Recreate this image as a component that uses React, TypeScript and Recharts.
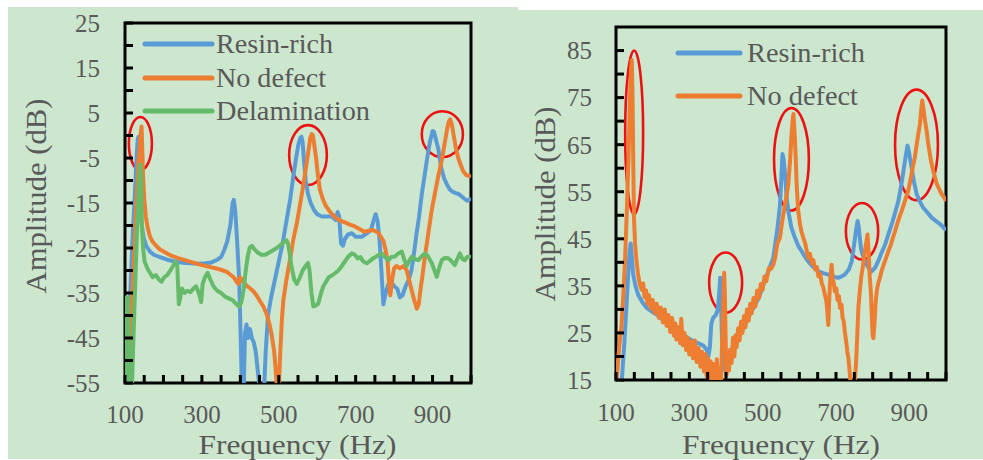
import React from 'react';
import { LineChart, Line, XAxis, YAxis, ReferenceArea, Legend } from 'recharts';

// ---------------- DATA ----------------
// Left panel: frequency (Hz) vs amplitude (dB)
const leftResinRich: [number, number][] = [
  [100, -44], [103, -50], [106, -56], [110, -45], [115, -32], [120, -22], [125, -14], [130, -5], [133, -1],
  [135, -0.3], [137, -6], [139, -15], [142, -19], [148, -22.5], [155, -24.5], [165, -25.8], [175, -26.5],
  [190, -27], [210, -27.6], [230, -28], [250, -28.3], [270, -28.4], [290, -28.5], [310, -28.4], [325, -28.2],
  [340, -27.6], [350, -27], [358, -25.5], [366, -23.5], [374, -20], [380, -15], [383, -14.3], [387, -17],
  [392, -24], [397, -32], [401, -45], [404, -56], [409, -56], [412, -44], [416, -42], [420, -45], [425, -43],
  [430, -45], [435, -46], [440, -48], [445, -52], [450, -56], [462, -56], [466, -48], [472, -40], [480, -36],
  [490, -32], [500, -28], [510, -24], [520, -19], [530, -14], [538, -9], [545, -5], [551, -2], [556, -0.5],
  [559, -0.3], [562, -1.5], [566, -6], [570, -10], [576, -13], [583, -15], [592, -16.6], [600, -17.5],
  [612, -18], [625, -18], [638, -18], [648, -18.8], [653, -17], [657, -18], [662, -24], [667, -24.5],
  [672, -23], [680, -22], [690, -21.7], [700, -22.5], [716, -22.5], [728, -21.8], [740, -21], [748, -18.5],
  [752, -17.5], [757, -19], [762, -23], [767, -30], [772, -37.5], [778, -35], [785, -33], [792, -32.5],
  [800, -33.5], [808, -34], [815, -36], [822, -35.5], [830, -33.5], [838, -32], [845, -30], [852, -26],
  [858, -22], [865, -18], [872, -13], [880, -8.5], [887, -4.5], [893, -1.5], [900, 1], [904, 0.8],
  [909, -1], [915, -3], [922, -7], [930, -9.5], [938, -11], [945, -12], [952, -12.5], [960, -12.8],
  [968, -13], [975, -13.5], [982, -14], [990, -14.5], [1000, -14],
];

const leftNoDefect: [number, number][] = [
  [100, -47], [104, -50], [108, -56], [112, -56], [116, -44], [120, -34], [124, -26], [128, -18], [132, -11],
  [136, -5], [140, -0.5], [143, 2], [145, -3], [147, -9], [150, -14], [154, -18], [159, -20.5], [165, -22.5],
  [172, -23.6], [182, -24.6], [192, -25.4], [205, -26], [220, -26.7], [240, -27.3], [260, -27.8],
  [280, -28.3], [300, -28.8], [320, -29.2], [340, -29.6], [355, -30], [365, -30.3], [375, -31], [383, -31.5],
  [390, -32.5], [395, -33], [399, -31.5], [404, -32], [410, -32.8], [418, -33.5], [426, -34], [434, -34.6],
  [442, -35.5], [451, -36.8], [460, -38], [469, -39.8], [476, -42], [482, -44.5], [488, -48], [492, -52],
  [495, -56], [500, -56], [504, -48], [508, -41], [512, -36.5], [520, -32], [529, -27.7], [538, -23],
  [547, -19.5], [556, -15], [564, -11], [571, -7], [577, -3.5], [582, -0.5], [586, 0.3], [589, 0],
  [593, -2.5], [597, -5], [602, -9], [607, -12], [614, -14], [622, -15.6], [630, -16.6], [640, -17.6],
  [650, -18.4], [662, -19], [672, -19.3], [685, -19.8], [698, -20.2], [710, -20.8], [722, -21.4],
  [732, -21.2], [742, -21], [750, -21.2], [759, -21.6], [766, -22.6], [772, -23.4], [778, -25.5],
  [783, -28], [787, -33], [790, -35.5], [795, -32], [800, -29.5], [806, -29], [815, -29.5], [825, -29],
  [833, -30], [840, -32.5], [846, -34.5], [852, -36.5], [859, -38.5], [864, -37.5], [869, -34],
  [874, -31], [880, -27], [889, -21.7], [897, -17], [906, -12.9], [915, -9], [924, -5.4], [932, -1.5],
  [938, 1.5], [942, 3], [946, 3.6], [950, 2.5], [955, 0], [961, -3], [967, -5], [973, -6.5], [980, -8],
  [988, -8.8], [996, -9], [1000, -9.1],
];

const leftDelamination: [number, number][] = [
  [100, -42], [102, -36], [104, -55], [106, -38], [108, -36], [110, -46], [112, -56], [118, -56],
  [122, -45], [127, -32], [131, -22], [135, -14], [138, -8], [140, -6.5], [142, -10], [144, -20],
  [147, -25], [151, -28], [158, -29.5], [165, -30.5], [172, -31.5], [180, -31], [188, -32], [195, -32.5],
  [202, -31.5], [210, -31], [218, -30], [225, -29], [232, -28], [236, -29], [240, -37.5], [244, -36],
  [248, -34], [255, -35], [262, -34.5], [270, -34.8], [278, -34], [285, -33.5], [292, -35], [298, -37],
  [302, -33], [308, -31.5], [315, -30.5], [322, -32], [330, -33.5], [340, -34.5], [350, -35], [360, -35.8],
  [370, -36.2], [380, -36.6], [390, -37.5], [397, -38], [403, -37], [409, -34], [414, -30], [419, -27],
  [424, -25], [430, -24.5], [437, -25.3], [445, -26], [455, -26.5], [465, -26.5], [475, -26], [485, -25.5],
  [495, -25], [505, -24.3], [515, -23.5], [520, -23.3], [524, -24], [528, -26], [533, -29], [540, -32],
  [547, -33], [555, -31.5], [562, -30], [570, -29], [576, -28.3], [580, -30], [585, -35], [590, -38],
  [596, -37.8], [603, -37.3], [610, -35], [616, -33.5], [623, -32.5], [630, -31.5], [640, -31],
  [648, -30.5], [655, -30], [664, -29], [672, -28], [681, -26.9], [690, -26.2], [698, -26.5], [705, -27.3],
  [712, -27], [720, -28], [729, -28.4], [738, -27.8], [745, -27.3], [752, -27], [760, -26.5], [768, -26.2],
  [776, -27], [785, -27.7], [793, -27], [802, -26.9], [810, -26.3], [820, -25.8], [826, -27.5], [833, -29],
  [838, -28], [846, -26.9], [855, -27.5], [863, -27.7], [870, -27], [880, -26.2], [888, -26.8], [898, -28.4],
  [905, -30], [911, -31.4], [917, -29.5], [924, -27.7], [932, -27.2], [941, -27.3], [950, -28], [958, -28.8],
  [964, -27.5], [971, -26.2], [978, -27.5], [984, -27.7], [990, -27], [997, -26.9], [1000, -27.2],
];

// Right panel
const rightResinRich: [number, number][] = [
  [100, 10], [110, 12], [116, 15], [122, 22], [128, 30], [133, 37], [137, 42], [140, 44], [143, 41],
  [147, 37.4], [153, 35], [161, 33], [172, 31.5], [184, 30.3], [198, 29.5], [211, 28.9], [225, 28],
  [238, 27.1], [252, 26.3], [265, 25.5], [280, 24.6], [295, 24], [310, 23.3], [325, 22.8], [338, 22.3],
  [347, 21.5], [352, 20], [356, 22], [360, 27], [365, 28.2], [372, 28.8], [378, 30], [382, 34], [384, 36.7],
  [386, 33], [389, 24], [393, 18.2], [398, 17], [402, 17.5], [408, 19], [415, 21], [422, 22.2], [429, 23.2],
  [440, 25], [452, 26.8], [465, 28.9], [478, 30.8], [490, 32.5], [502, 35.3], [515, 38], [529, 41],
  [540, 47], [547, 52], [551, 58], [554, 63], [557, 62], [561, 58.7], [565, 54], [570, 50.9], [578, 47.5],
  [588, 45.2], [597, 43.5], [606, 42.4], [615, 41.2], [624, 40.2], [638, 39], [652, 38.1], [665, 37.7],
  [679, 37.4], [692, 37], [706, 36.7], [715, 37], [724, 37.4], [735, 38.5], [743, 40.2], [748, 43],
  [752, 45.2], [756, 47.5], [759, 48.8], [762, 47.5], [765, 45.2], [768, 43], [772, 41.7], [778, 40.5],
  [784, 39.5], [790, 38.6], [797, 38.1], [806, 38.8], [815, 40.2], [824, 42], [834, 43.8], [843, 46],
  [852, 48.1], [861, 50.5], [870, 53], [877, 56], [884, 59.4], [890, 62.5], [895, 64.8], [899, 63.5],
  [903, 61.5], [906, 60.2], [913, 57], [920, 54.5], [928, 53], [938, 51.6], [950, 50.5], [961, 49.5],
  [972, 48.8], [984, 48.1], [992, 47.5], [1000, 46.8],
];

const rightNoDefect: [number, number][] = [
  [100, 12], [103, 16], [106, 19.6], [110, 23], [115, 26.7], [120, 33], [125, 41], [130, 52], [134, 62],
  [138, 74], [141, 81], [143, 83], [145, 76], [147, 62], [149, 49.5], [152, 44], [155, 41], [160, 37.5],
  [165, 35.3], [170, 34.2], [174, 35.5], [178, 32.6], [182, 34], [186, 31.2], [190, 33], [195, 30.2],
  [200, 32], [206, 29.2], [211, 31.2], [217, 28.2], [222, 30.4], [228, 27.2], [233, 30], [238, 26.5],
  [243, 28.8], [248, 25.2], [253, 28.2], [258, 24.4], [262, 27], [265, 23.6], [270, 26.2], [275, 22.8],
  [278, 28], [282, 22.4], [287, 25], [291, 21.4], [296, 24], [300, 20.4], [305, 23.2], [310, 19.6],
  [315, 23.4], [320, 18.8], [325, 21.8], [330, 17.8], [335, 21], [340, 16.8], [344, 20.5], [347, 15.8],
  [351, 19.6], [355, 15.2], [358, 19], [362, 14], [366, 18.4], [370, 14], [375, 19.4], [379, 13], [383, 17.4],
  [386, 14], [389, 22], [392, 30], [395, 37.8], [397, 33], [399, 24], [401, 16], [404, 20], [408, 17],
  [411, 21.4], [415, 18.6], [419, 24], [423, 20], [426, 24.5], [429, 22], [433, 26], [437, 23.4], [441, 27.4],
  [445, 25], [449, 28.6], [453, 26.2], [457, 30], [462, 27.6], [466, 31.2], [470, 29.2], [475, 32.4],
  [480, 30.6], [485, 34], [490, 32.4], [495, 35.4], [500, 34.2], [505, 37], [510, 36], [517, 38.8],
  [523, 38.6], [529, 39.5], [534, 41], [540, 44], [547, 45.2], [552, 48], [558, 51], [565, 54], [570, 56.6],
  [575, 62], [579, 67.3], [582, 70.5], [584, 71.5], [586, 69], [588, 66], [590, 62.3], [593, 56], [597, 50.9],
  [602, 48], [606, 46.5], [611, 45.2], [616, 44], [620, 42.5], [624, 41], [629, 41.8], [634, 39.8],
  [638, 40.5], [643, 38.5], [648, 39], [652, 37], [657, 37.5], [661, 35.5], [665, 34.8], [670, 33],
  [674, 31.7], [677, 29], [679, 26.7], [681, 31], [684, 36], [688, 39.5], [691, 36.5], [694, 35.5],
  [697, 33.8], [701, 34.5], [704, 32], [708, 32.8], [711, 30.3], [715, 31], [718, 28.2], [721, 27.5],
  [724, 25.3], [728, 23], [731, 21], [734, 19.6], [737, 17], [741, 13], [748, 13], [752, 15.4], [755, 19],
  [758, 24.5], [761, 30.3], [765, 34], [769, 37], [774, 39.5], [778, 42], [782, 44], [786, 45.9],
  [789, 42], [792, 37], [795, 33.8], [798, 28], [800, 24.5], [802, 23.9], [805, 27], [808, 31.5],
  [811, 33.8], [815, 35.5], [820, 36.8], [824, 38.1], [830, 39.5], [836, 40.8], [843, 42.4], [849, 43.6],
  [855, 45.2], [861, 46.6], [867, 48.2], [873, 49.6], [879, 50.9], [885, 52.3], [891, 53.8], [897, 55.2],
  [903, 57.5], [909, 60], [915, 62.3], [920, 65], [925, 67.5], [929, 69.4], [932, 72], [935, 74.4],
  [938, 73], [941, 71], [944, 69.5], [947, 68], [951, 65.5], [955, 63.5], [958, 62], [961, 60.9],
  [965, 59.5], [970, 58], [975, 56.6], [980, 55.8], [985, 55], [988, 54.5], [993, 54], [997, 53.5],
  [1000, 53],
];

// Highlight rings: [fFrom, fTo, vFrom, vTo] in data units
const leftRings: [number, number, number, number][] = [
  [110, 170, -7.7, 4.1],
  [527, 625, -11, 2.3],
  [872, 979, -4.8, 5.4],
];
const rightRings: [number, number, number, number][] = [
  [125, 174, 50.2, 85],
  [354, 444, 29.3, 42.1],
  [531, 626, 51, 72.8],
  [727, 815, 40.6, 52.6],
  [861, 978, 53.2, 76.7],
];

// Axes
const xDomain: [number, number] = [100, 1000];
const xTicks = [100, 150, 200, 250, 300, 350, 400, 450, 500, 550, 600, 650, 700, 750, 800, 850, 900, 950, 1000];
const xTickLabels = [100, 300, 500, 700, 900];
const leftYDomain: [number, number] = [-55, 25];
const leftYTicks = [-55, -50, -45, -40, -35, -30, -25, -20, -15, -10, -5, 0, 5, 10, 15, 20, 25];
const leftYTickLabels = [-55, -45, -35, -25, -15, -5, 5, 15, 25];
const rightYDomain: [number, number] = [15, 90];
const rightYTicks = [15, 20, 25, 30, 35, 40, 45, 50, 55, 60, 65, 70, 75, 80, 85];
const rightYTickLabels = [15, 25, 35, 45, 55, 65, 75, 85];

const xTitle = 'Frequency (Hz)';
const yTitle = 'Amplitude (dB)';
const nameResin = 'Resin-rich';
const nameNoDefect = 'No defect';
const nameDelam = 'Delamination';

// ---------------- STYLE ----------------
const FONT = "Liberation Serif, DejaVu Serif, Noto Serif, serif";
const TEXT = '#595959';
const BLUE = '#5b9bd5';
const ORANGE = '#ed7d31';
const GREEN = '#66bb6a';
const RING = '#ee1111';
const BG = '#cde7cf';
const TICK_FS = 25;
const TITLE_FS = 28;

const toPts = (arr: [number, number][]) => arr.map(([f, v]) => ({ f, v }));

const Ring = (props: any) => {
  const { x, y, width, height } = props;
  if (x == null || y == null) return null;
  return (
    <ellipse cx={x + width / 2} cy={y + height / 2} rx={Math.abs(width) / 2} ry={Math.abs(height) / 2}
      fill="none" stroke={RING} strokeWidth={2.6} />
  );
};

const makeLegend = (items: { name: string; color: string; w: number }[], lx1: number, lx2: number, tx: number, ys: number[], w: number, h: number) => () => (
  <svg width={w} height={h} style={{ display: 'block' }}>
    {items.map((it, i) => (
      <g key={it.name}>
        <line x1={lx1} x2={lx2} y1={ys[i]} y2={ys[i]} stroke={it.color} strokeWidth={5} strokeLinecap="round" />
        <text x={tx} y={ys[i] + 9} fontFamily={FONT} fontSize={28} fill={TEXT}
          textLength={it.w} lengthAdjust="spacingAndGlyphs">{it.name}</text>
      </g>
    ))}
  </svg>
);

const yTitleRenderer = (cx: number, cy: number) => () => (
  <text x={cx} y={cy} transform={`rotate(-90, ${cx}, ${cy})`} textAnchor="middle" fontFamily={FONT} fontSize={30} fill={TEXT}
    textLength={195} lengthAdjust="spacingAndGlyphs">{yTitle}</text>
);
const xTitleRenderer = (cx: number, by: number) => () => (
  <text x={cx} y={by} textAnchor="middle" fontFamily={FONT} fontSize={TITLE_FS} fill={TEXT}
    textLength={198} lengthAdjust="spacingAndGlyphs">{xTitle}</text>
);

// custom tick renderers
const makeTick = (labels: number[], axis: 'x' | 'y') => (props: any) => {
  const { x, y, payload } = props;
  const v = payload && payload.value;
  if (!labels.includes(v)) return <g />;
  const s = String(v);
  if (axis === 'x') {
    return (
      <text x={x} y={y} dy="0.71em" textAnchor="middle" fontFamily={FONT} fontSize={TICK_FS} fill={TEXT}>{s}</text>
    );
  }
  return (
    <text x={x} y={y} dy="0.355em" textAnchor="end" fontFamily={FONT} fontSize={TICK_FS} fill={TEXT}>{s}</text>
  );
};

const tickLineStyle = { stroke: '#000', strokeWidth: 3 };

export default function App() {
  const leftLegend = makeLegend(
    [{ name: nameResin, color: BLUE, w: 117 }, { name: nameNoDefect, color: ORANGE, w: 110 }, { name: nameDelam, color: GREEN, w: 154 }],
    5, 72, 76, [19, 53, 86], 260, 100,
  );
  const rightLegend = makeLegend(
    [{ name: nameResin, color: BLUE, w: 118 }, { name: nameNoDefect, color: ORANGE, w: 111 }],
    8, 70, 77, [23, 66], 220, 80,
  );
  return (
    <div style={{ position: 'absolute', left: 0, top: 0, width: 983, height: 460, background: '#fff', overflow: 'hidden' }}>
      <div style={{ position: 'absolute', left: 8, top: 7, width: 975, height: 452, background: BG }} />
      <div style={{ position: 'absolute', left: 518, top: 0, width: 465, height: 10, background: '#fff' }} />

      {/* Left panel */}
      <div style={{ position: 'absolute', left: 0, top: 0 }}>
        <LineChart width={490} height={460} margin={{ top: 23, right: 19, bottom: 0, left: 0 }}>
          <XAxis type="number" dataKey="f" domain={xDomain} ticks={xTicks} interval={0} allowDataOverflow
            height={77} axisLine={false} tickLine={tickLineStyle} tickSize={-8} tickMargin={30}
            tick={makeTick(xTickLabels, 'x')}
            label={{ value: xTitle, content: xTitleRenderer(297.5, 454) }} />
          <YAxis type="number" dataKey="v" domain={leftYDomain} ticks={leftYTicks} interval={0} allowDataOverflow
            width={125} axisLine={false} tickLine={tickLineStyle} tickSize={-8} tickMargin={33}
            tick={makeTick(leftYTickLabels, 'y')}
            label={{ value: yTitle, content: yTitleRenderer(45.5, 196) }} />
          <Line data={toPts(leftResinRich)} dataKey="v" stroke={BLUE} strokeWidth={4} dot={false} isAnimationActive={false} strokeLinejoin="round" />
          <Line data={toPts(leftNoDefect)} dataKey="v" stroke={ORANGE} strokeWidth={4} dot={false} isAnimationActive={false} strokeLinejoin="round" />
          <Line data={toPts(leftDelamination)} dataKey="v" stroke={GREEN} strokeWidth={4} dot={false} isAnimationActive={false} strokeLinejoin="round" />
          {leftRings.map((r, i) => (
            <ReferenceArea key={i} x1={r[0]} x2={r[1]} y1={r[2]} y2={r[3]} shape={Ring} ifOverflow="visible" />
          ))}
          <ReferenceArea x1={xDomain[0]} x2={xDomain[1]} y1={leftYDomain[0]} y2={leftYDomain[1]} fill="none" fillOpacity={0} stroke="#000" strokeWidth={3} ifOverflow="visible" />
          <Legend layout="vertical" align="center" verticalAlign="middle" content={leftLegend}
            wrapperStyle={{ position: 'absolute', left: 140, top: 25, width: 260, height: 100 }} />
        </LineChart>
      </div>

      {/* Right panel */}
      <div style={{ position: 'absolute', left: 500, top: 0 }}>
        <LineChart width={483} height={460} margin={{ top: 27, right: 37, bottom: 0, left: 0 }}>
          <XAxis type="number" dataKey="f" domain={xDomain} ticks={xTicks} interval={0} allowDataOverflow
            height={80} axisLine={false} tickLine={tickLineStyle} tickSize={-8} tickMargin={31}
            tick={makeTick(xTickLabels, 'x')}
            label={{ value: xTitle, content: xTitleRenderer(281, 454) }} />
          <YAxis type="number" dataKey="v" domain={rightYDomain} ticks={rightYTicks} interval={0} allowDataOverflow
            width={116} axisLine={false} tickLine={tickLineStyle} tickSize={-8} tickMargin={32}
            tick={makeTick(rightYTickLabels, 'y')}
            label={{ value: yTitle, content: yTitleRenderer(55, 204) }} />
          <Line data={toPts(rightResinRich)} dataKey="v" stroke={BLUE} strokeWidth={4} dot={false} isAnimationActive={false} strokeLinejoin="round" />
          <Line data={toPts(rightNoDefect)} dataKey="v" stroke={ORANGE} strokeWidth={4} dot={false} isAnimationActive={false} strokeLinejoin="round" />
          {rightRings.map((r, i) => (
            <ReferenceArea key={i} x1={r[0]} x2={r[1]} y1={r[2]} y2={r[3]} shape={Ring} ifOverflow="visible" />
          ))}
          <ReferenceArea x1={xDomain[0]} x2={xDomain[1]} y1={rightYDomain[0]} y2={rightYDomain[1]} fill="none" fillOpacity={0} stroke="#000" strokeWidth={3} ifOverflow="visible" />
          <Legend layout="vertical" align="center" verticalAlign="middle" content={rightLegend}
            wrapperStyle={{ position: 'absolute', left: 170, top: 30, width: 220, height: 80 }} />
        </LineChart>
      </div>
    </div>
  );
}
